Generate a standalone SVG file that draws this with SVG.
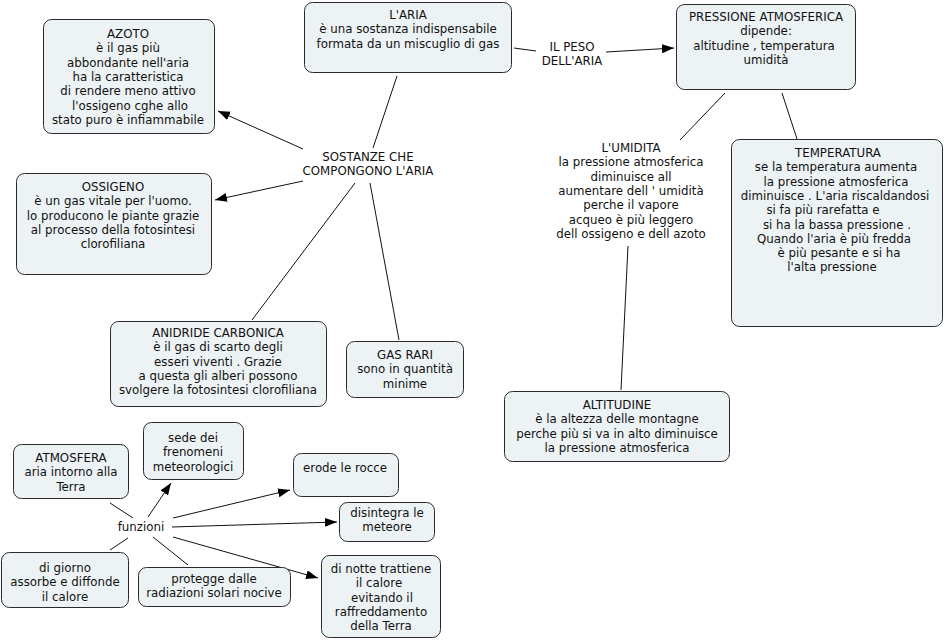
<svg xmlns="http://www.w3.org/2000/svg" width="944" height="641" viewBox="0 0 944 641">
<style>
.box{fill:#edf3f5;stroke:#2a2a2a;stroke-width:1}
text{font-family:"DejaVu Sans",Verdana,sans-serif;font-size:11.8px;fill:#111;text-anchor:middle}
.c line{stroke:#111;stroke-width:1}
</style>
<defs>
<marker id="ah" markerUnits="userSpaceOnUse" markerWidth="13" markerHeight="10" refX="12" refY="4.5" orient="auto">
<path d="M0,0 L12,4.5 L0,9 z" fill="#000"/>
</marker>
</defs>
<rect width="944" height="641" fill="#fff"/>
<g class="c" id="connectors">
<line x1="397" y1="76" x2="373" y2="148"/>
<line x1="303" y1="149" x2="218" y2="111" marker-end="url(#ah)"/>
<line x1="303" y1="181" x2="215" y2="200" marker-end="url(#ah)"/>
<line x1="355" y1="183" x2="252" y2="320"/>
<line x1="370" y1="183" x2="399" y2="340"/>
<line x1="514" y1="48" x2="536" y2="51"/>
<line x1="606" y1="52" x2="674" y2="48" marker-end="url(#ah)"/>
<line x1="725" y1="93" x2="680" y2="140"/>
<line x1="782" y1="93" x2="797" y2="139"/>
<line x1="628" y1="246" x2="621" y2="390"/>
<line x1="110" y1="503" x2="133" y2="518"/>
<line x1="148" y1="517" x2="171" y2="483" marker-end="url(#ah)"/>
<line x1="173" y1="518" x2="290" y2="490" marker-end="url(#ah)"/>
<line x1="172" y1="527" x2="337" y2="522" marker-end="url(#ah)"/>
<line x1="173" y1="537" x2="318" y2="578" marker-end="url(#ah)"/>
<line x1="153" y1="537" x2="188" y2="565"/>
<line x1="128" y1="538" x2="110" y2="550"/>
</g>
<g id="aria">
<rect class="box" x="304.5" y="2.5" width="207" height="70" rx="8"/>
<text x="408" y="19"><tspan x="408">L'ARIA</tspan><tspan x="408" dy="14.3">è una sostanza indispensabile</tspan><tspan x="408" dy="14.3">formata da un miscuglio di gas</tspan></text>
</g>
<g id="azoto">
<rect class="box" x="43.5" y="19.5" width="171" height="114" rx="8"/>
<text x="128" y="38"><tspan x="128">AZOTO</tspan><tspan x="128" dy="14.3">è il gas più</tspan><tspan x="128" dy="14.3">abbondante nell'aria</tspan><tspan x="128" dy="14.3">ha la caratteristica</tspan><tspan x="128" dy="14.3">di rendere meno attivo</tspan><tspan x="130" dy="14.3">l'ossigeno cghe allo</tspan><tspan x="128" dy="14.3">stato puro è infiammabile</tspan></text>
</g>
<g id="pressione">
<rect class="box" x="676.5" y="4.5" width="179" height="85" rx="8"/>
<text x="766" y="21"><tspan x="766">PRESSIONE ATMOSFERICA</tspan><tspan x="766" dy="14.3">dipende:</tspan><tspan x="764" dy="14.3">altitudine , temperatura</tspan><tspan x="766" dy="14.3">umidità</tspan></text>
</g>
<g id="peso">
<text x="572" y="51"><tspan x="572">IL PESO</tspan><tspan x="572" dy="14.3">DELL'ARIA</tspan></text>
</g>
<g id="sostanze">
<text x="368" y="161"><tspan x="368">SOSTANZE CHE</tspan><tspan x="368" dy="14.3">COMPONGONO L'ARIA</tspan></text>
</g>
<g id="ossigeno">
<rect class="box" x="16.5" y="173.5" width="195" height="101" rx="8"/>
<text x="113" y="191"><tspan x="113">OSSIGENO</tspan><tspan x="113" dy="14.3">è un gas vitale per l'uomo.</tspan><tspan x="113" dy="14.3">lo producono le piante grazie</tspan><tspan x="113" dy="14.3">al processo della fotosintesi</tspan><tspan x="113" dy="14.3">clorofiliana</tspan></text>
</g>
<g id="anidride">
<rect class="box" x="110.5" y="321.5" width="216" height="85" rx="8"/>
<text x="218" y="337"><tspan x="218">ANIDRIDE CARBONICA</tspan><tspan x="218" dy="14.3">è il gas di scarto degli</tspan><tspan x="218" dy="14.3">esseri viventi . Grazie</tspan><tspan x="218" dy="14.3">a questa gli alberi possono</tspan><tspan x="218" dy="14.3">svolgere la fotosintesi clorofiliana</tspan></text>
</g>
<g id="gasrari">
<rect class="box" x="346.5" y="341.5" width="117" height="56" rx="8"/>
<text x="405" y="359"><tspan x="405">GAS RARI</tspan><tspan x="405" dy="14.3">sono in quantità</tspan><tspan x="405" dy="14.3">minime</tspan></text>
</g>
<g id="umidita">
<text x="631" y="152"><tspan x="631">L'UMIDITA</tspan><tspan x="631" dy="14.3">la pressione atmosferica</tspan><tspan x="631" dy="14.3">diminuisce all</tspan><tspan x="631" dy="14.3">aumentare dell ' umidità</tspan><tspan x="631" dy="14.3">perche il vapore</tspan><tspan x="631" dy="14.3">acqueo è più leggero</tspan><tspan x="631" dy="14.3">dell ossigeno e dell azoto</tspan></text>
</g>
<g id="temperatura">
<rect class="box" x="731.5" y="139.5" width="211" height="187" rx="8"/>
<text x="838" y="157"><tspan x="838">TEMPERATURA</tspan><tspan x="836" dy="14.3">se la temperatura aumenta</tspan><tspan x="836" dy="14.3">la pressione atmosferica</tspan><tspan x="835" dy="14.3">diminuisce . L'aria riscaldandosi</tspan><tspan x="823" dy="14.3">si fa più rarefatta e</tspan><tspan x="837" dy="14.3">si ha la bassa pressione .</tspan><tspan x="834" dy="14.3">Quando l'aria è più fredda</tspan><tspan x="839" dy="14.3">è più pesante e si ha</tspan><tspan x="832" dy="14.3">l'alta pressione</tspan></text>
</g>
<g id="altitudine">
<rect class="box" x="504.5" y="391.5" width="225" height="70" rx="8"/>
<text x="617" y="409"><tspan x="617">ALTITUDINE</tspan><tspan x="617" dy="14.3">è la altezza delle montagne</tspan><tspan x="617" dy="14.3">perche più si va in alto diminuisce</tspan><tspan x="617" dy="14.3">la pressione atmosferica</tspan></text>
</g>
<g id="atmosfera">
<rect class="box" x="13.5" y="444.5" width="115" height="54" rx="8"/>
<text x="71" y="462"><tspan x="71">ATMOSFERA</tspan><tspan x="71" dy="14.3">aria intorno alla</tspan><tspan x="71" dy="14.3">Terra</tspan></text>
</g>
<g id="sede">
<rect class="box" x="143.5" y="422.5" width="100" height="57" rx="8"/>
<text x="193" y="442"><tspan x="193">sede dei</tspan><tspan x="193" dy="14.3">frenomeni</tspan><tspan x="193" dy="14.3">meteorologici</tspan></text>
</g>
<g id="funzioni">
<text x="141" y="531">funzioni</text>
</g>
<g id="erode">
<rect class="box" x="293.5" y="453.5" width="105" height="43" rx="8"/>
<text x="345" y="472">erode le rocce</text>
</g>
<g id="disintegra">
<rect class="box" x="339.5" y="502.5" width="95" height="39" rx="8"/>
<text x="387" y="517"><tspan x="387">disintegra le</tspan><tspan x="387" dy="14.3">meteore</tspan></text>
</g>
<g id="giorno">
<rect class="box" x="1.5" y="552.5" width="127" height="55" rx="8"/>
<text x="65" y="572"><tspan x="65">di giorno</tspan><tspan x="65" dy="14.3">assorbe e diffonde</tspan><tspan x="65" dy="14.3">il calore</tspan></text>
</g>
<g id="protegge">
<rect class="box" x="138.5" y="567.5" width="152" height="39" rx="8"/>
<text x="214" y="583"><tspan x="214">protegge dalle</tspan><tspan x="214" dy="14.3">radiazioni solari nocive</tspan></text>
</g>
<g id="notte">
<rect class="box" x="321.5" y="555.5" width="119" height="82" rx="8"/>
<text x="381" y="573"><tspan x="381">di notte trattiene</tspan><tspan x="379" dy="14.3">il calore</tspan><tspan x="382" dy="14.3">evitando il</tspan><tspan x="381" dy="14.3">raffreddamento</tspan><tspan x="381" dy="14.3">della Terra</tspan></text>
</g>
</svg>
